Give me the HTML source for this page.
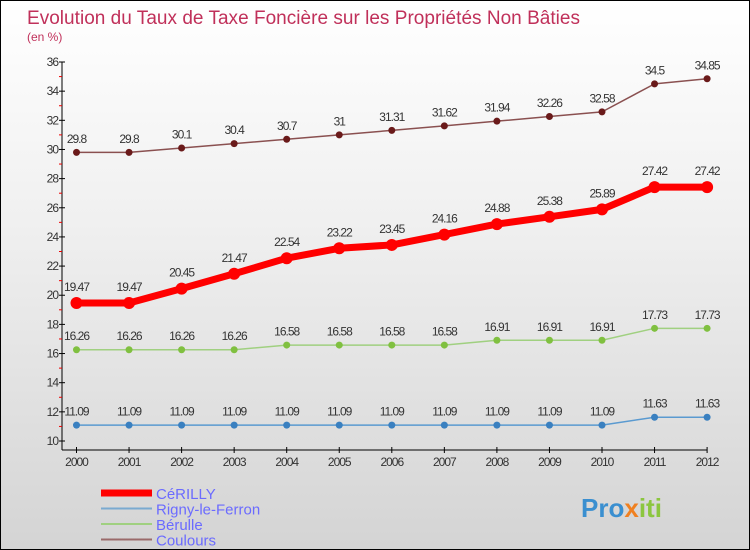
<!DOCTYPE html>
<html><head><meta charset="utf-8"><style>
body{margin:0}
#c{position:relative;width:748px;height:548px;border:1px solid #000;background:linear-gradient(#fff 0%,#f0f0f0 40%,#d4d4d4 100%);overflow:hidden;font-family:"Liberation Sans",sans-serif}
</style></head><body>
<div id="c">
<svg id="s" width="748" height="548">
<text x="26" y="23" font-size="19" fill="#c0305a" textLength="553">Evolution du Taux de Taxe Foncière sur les Propriétés Non Bâties</text>
<text x="26" y="40" font-size="12" fill="#c0305a">(en %)</text>
<g><text x="580" y="516" font-size="26" font-weight="bold" fill="#3a8fd0">Pro<tspan fill="#f08020">x</tspan><tspan fill="#8cc63f">iti</tspan></text></g>
</svg>
</div>
<script>
const years=[2000,2001,2002,2003,2004,2005,2006,2007,2008,2009,2010,2011,2012];
const cerilly=[19.47,19.47,20.45,21.47,22.54,23.22,23.45,24.16,24.88,25.38,25.89,27.42,27.42];
const rigny=[11.09,11.09,11.09,11.09,11.09,11.09,11.09,11.09,11.09,11.09,11.09,11.63,11.63];
const berulle=[16.26,16.26,16.26,16.26,16.58,16.58,16.58,16.58,16.91,16.91,16.91,17.73,17.73];
const coulours=[29.8,29.8,30.1,30.4,30.7,31,31.31,31.62,31.94,32.26,32.58,34.5,34.85];
const yTicks=[10,12,14,16,18,20,22,24,26,28,30,32,34,36];
const NS="http://www.w3.org/2000/svg",s=document.getElementById('s');
const X=i=>75.5+i*52.55, Y=v=>440-(v-10)*(379/26);
function el(t,a,p){const e=document.createElementNS(NS,t);for(const k in a)e.setAttribute(k,a[k]);(p||s).appendChild(e);return e;}
const ax=el('g',{});


el('line',{x1:61,y1:Y(36),x2:61,y2:449,stroke:'#000'},ax);
el('line',{x1:61,y1:449,x2:X(12),y2:449,stroke:'#000'},ax);
yTicks.forEach(v=>{el('line',{x1:58,y1:Y(v),x2:64,y2:Y(v),stroke:'#000'},ax);
if(v<36)el('line',{x1:58,y1:Y(v+1),x2:61,y2:Y(v+1),stroke:'#e00'},ax);
const t=el('text',{x:57,y:Y(v)+4,'font-size':12,'text-anchor':'end',fill:'#333','letter-spacing':'-1'},ax);t.textContent=v;

});
years.forEach((y,i)=>{el('line',{x1:X(i),y1:446,x2:X(i),y2:452,stroke:'#000'},ax);
const t=el('text',{x:X(i),y:465,'font-size':12,'text-anchor':'middle',fill:'#333','letter-spacing':'-1'},ax);t.textContent=y;

});
function series(name,data,color,w,r,dot){
const g=el('g',{});


el('polyline',{points:data.map((v,i)=>X(i)+','+Y(v)).join(' '),fill:'none',stroke:color,'stroke-width':w,'stroke-linejoin':'round'},g);
data.forEach((v,i)=>{const c=el('circle',{cx:X(i),cy:Y(v),r:r,fill:dot},g);


const t=el('text',{x:X(i),y:Y(v)-(r+6),'font-size':12,'text-anchor':'middle',fill:'#333','letter-spacing':'-1'},g);t.textContent=v;

});}
series('coulours',coulours,'#8a5050',1.5,3.5,'#6a1a1a');
series('cerilly',cerilly,'#f00',7,6,'#f00');
series('berulle',berulle,'#a0d080',1.5,3.5,'#80c040');
series('rigny',rigny,'#5a9ad0',1.5,3.5,'#3a80c0');
const leg=[['CéRILLY','#f00',7],['Rigny-le-Ferron','#7aaad0',2],['Bérulle','#a0d080',2],['Coulours','#9a6a6a',2]];
leg.forEach((l,i)=>{const g=el('g',{});


const y=492+i*15.5;
el('line',{x1:100,y1:y,x2:151,y2:y,stroke:l[1],'stroke-width':l[2]},g);
const t=el('text',{x:155,y:y+6,'font-size':15,fill:'#6b6bff'},g);t.textContent=l[0];});
</script>
</body></html>
